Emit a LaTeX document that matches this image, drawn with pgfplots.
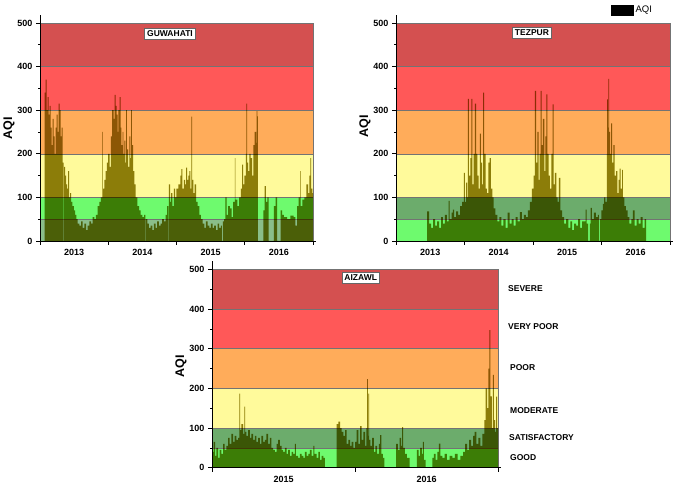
\documentclass[border=0pt]{standalone}
\usepackage{pgfplots}
\pgfplotsset{compat=1.18}
\usepackage{fontspec}
\setmainfont{Liberation Sans}
\definecolor{sev}{RGB}{212,80,80}
\definecolor{vp}{RGB}{255,88,88}
\definecolor{poor}{RGB}{255,172,90}
\definecolor{mod}{RGB}{255,250,155}
\definecolor{limeg}{RGB}{110,250,110}
\definecolor{mgreen}{RGB}{108,172,108}
\definecolor{ggood}{RGB}{138,190,138}
\definecolor{barc}{RGB}{140,128,15}

\newcommand\bands[4]{%
\addplot[fill=#3,draw=black!55,line width=0.4pt] coordinates {(#1,0)(#2,0)(#2,50)(#1,50)} -- cycle;
\addplot[fill=#4,draw=black!55,line width=0.4pt] coordinates {(#1,50)(#2,50)(#2,100)(#1,100)} -- cycle;
\addplot[fill=mod,draw=black!55,line width=0.4pt] coordinates {(#1,100)(#2,100)(#2,200)(#1,200)} -- cycle;
\addplot[fill=poor,draw=black!55,line width=0.4pt] coordinates {(#1,200)(#2,200)(#2,300)(#1,300)} -- cycle;
\addplot[fill=vp,draw=black!55,line width=0.4pt] coordinates {(#1,300)(#2,300)(#2,400)(#1,400)} -- cycle;
\addplot[fill=sev,draw=black!55,line width=0.4pt] coordinates {(#1,400)(#2,400)(#2,500)(#1,500)} -- cycle;
}

\tikzset{ttl/.style={draw=black!60, fill=white, line width=0.4pt, inner xsep=2.5pt, inner ysep=2.5pt, font=\fontsize{8.5}{9}\selectfont\bfseries}}

\pgfplotsset{
  panel/.style={
    scale only axis, anchor=south west, axis on top=true,
    axis x line*=bottom, axis y line*=left,
    axis line style={-, line width=0.9pt, black},
    tick align=outside, major tick length=4pt, minor tick length=2pt,
    tick style={black, line width=0.6pt},
    ymin=0,
    ytick={0,100,200,300,400,500}, minor ytick={50,150,250,350,450},
    yticklabels={0,100,200,300,400,500},
    yticklabel style={font=\fontsize{9}{10}\selectfont\bfseries},
    xticklabels={},
    extra x tick style={major tick length=0pt, xticklabel style={font=\fontsize{9}{10}\selectfont\bfseries, yshift=-5pt}},
    ylabel={AQI},
    ylabel style={font=\fontsize{12.5}{14}\selectfont\bfseries, anchor=center},
  },
}

\begin{document}
\begin{tikzpicture}
\path[use as bounding box] (0pt,0pt) rectangle (685pt,485pt);

% ---------------- GUWAHATI ----------------
\begin{axis}[panel, at={(40pt,244pt)}, width=276.4pt, height=225.9pt,
  xmin=2013, xmax=2017.05, ymax=518,
  xtick={2013,2014,2015,2016,2017},
  extra x ticks={2013.5,2014.5,2015.5,2016.5}, extra x tick labels={2013,2014,2015,2016},
  ylabel style={at={(axis description cs:-0.112,0.5)}}]
\bands{2013}{2017}{ggood}{limeg}
\addplot[const plot, fill=barc, draw=none, blend mode=multiply] coordinates {
(2013.068,340)(2013.083,370)(2013.097,300)(2013.112,330)(2013.126,290)(2013.141,310)(2013.155,260)(2013.170,220)(2013.184,280)(2013.199,240)(2013.214,200)(2013.228,260)(2013.243,290)(2013.257,250)(2013.272,315)(2013.286,300)(2013.301,240)(2013.316,260)(2013.330,180)(2013.345,0)(2013.354,170)(2013.369,150)(2013.383,130)(2013.398,120)(2013.413,160)(2013.427,100)(2013.442,110)(2013.456,90)(2013.476,80)(2013.495,70)(2013.515,60)(2013.534,50)(2013.553,40)(2013.578,35)(2013.602,45)(2013.626,30)(2013.650,40)(2013.675,25)(2013.699,35)(2013.723,45)(2013.748,40)(2013.772,55)(2013.796,50)(2013.820,60)(2013.845,80)(2013.869,90)(2013.893,100)(2013.913,250)(2013.922,120)(2013.942,140)(2013.961,160)(2013.981,180)
(2014.000,200)(2014.019,170)(2014.039,240)(2014.058,300)(2014.078,280)(2014.092,335)(2014.107,310)(2014.121,290)(2014.136,250)(2014.150,300)(2014.165,330)(2014.180,260)(2014.194,220)(2014.209,250)(2014.223,200)(2014.238,230)(2014.252,180)(2014.262,300)(2014.272,210)(2014.291,170)(2014.311,240)(2014.325,190)(2014.335,300)(2014.345,220)(2014.364,160)(2014.383,130)(2014.403,100)(2014.427,80)(2014.451,70)(2014.476,60)(2014.500,55)(2014.524,60)(2014.544,0)(2014.553,50)(2014.573,40)(2014.597,30)(2014.621,35)(2014.646,25)(2014.670,40)(2014.694,30)(2014.718,45)(2014.743,35)(2014.767,40)(2014.791,50)(2014.816,45)(2014.840,60)(2014.864,80)(2014.880,0)(2014.890,130)(2014.905,90)(2014.920,110)(2014.940,80)(2014.960,120)(2014.980,100)
(2015.000,120)(2015.029,130)(2015.058,150)(2015.073,165)(2015.087,120)(2015.107,140)(2015.126,130)(2015.141,168)(2015.155,140)(2015.175,150)(2015.189,160)(2015.204,120)(2015.218,285)(2015.228,140)(2015.248,110)(2015.267,130)(2015.286,90)(2015.311,80)(2015.335,60)(2015.359,50)(2015.383,40)(2015.408,30)(2015.432,45)(2015.456,35)(2015.481,30)(2015.505,40)(2015.529,30)(2015.553,35)(2015.578,25)(2015.602,40)(2015.626,30)(2015.650,35)(2015.665,0)(2015.680,45)(2015.699,50)(2015.718,100)(2015.733,60)(2015.757,80)(2015.782,75)(2015.806,55)(2015.830,90)(2015.854,190)(2015.864,95)(2015.893,80)(2015.917,100)(2015.942,120)(2015.961,175)(2015.976,130)(2015.995,150)
(2016.015,200)(2016.024,315)(2016.034,180)(2016.049,160)(2016.068,200)(2016.087,190)(2016.107,150)(2016.126,220)(2016.146,250)(2016.165,225)(2016.175,298)(2016.184,286)(2016.194,0)(2016.272,70)(2016.291,126)(2016.311,90)(2016.330,100)(2016.350,0)(2016.427,80)(2016.451,100)(2016.476,0)(2016.524,70)(2016.549,60)(2016.573,55)(2016.621,50)(2016.670,58)(2016.718,55)(2016.743,35)(2016.767,80)(2016.791,100)(2016.811,160)(2016.820,80)(2016.845,95)(2016.874,100)(2016.903,130)(2016.927,110)(2016.947,150)(2016.961,190)(2016.971,120)(2016.990,110)(2017.000,110)
} \closedcycle;
\node[ttl] at (axis cs:2014.905,475) {GUWAHATI};
\end{axis}

% ---------------- TEZPUR ----------------
\begin{axis}[panel, at={(396pt,244pt)}, width=277.4pt, height=225.9pt,
  xmin=2013, xmax=2017.05, ymax=518,
  xtick={2013,2014,2015,2016,2017},
  extra x ticks={2013.5,2014.5,2015.5,2016.5}, extra x tick labels={2013,2014,2015,2016},
  ylabel style={at={(axis description cs:-0.112,0.509)}},
  legend style={at={(axis description cs:0.775,1.0226)}, anchor=west, draw=none, fill=none, inner sep=0pt, font=\fontsize{9.5}{10}\selectfont}]
\addlegendimage{legend image code/.code={\fill[black] (0pt,-5pt) rectangle (22pt,5pt);}}
\addlegendentry{AQI}
\bands{2013}{2017}{limeg}{mgreen}
\addplot[const plot, fill=barc, draw=none, blend mode=multiply] coordinates {
(2013.454,68)(2013.483,40)(2013.512,30)(2013.541,50)(2013.570,35)(2013.599,45)(2013.628,30)(2013.657,55)(2013.686,40)(2013.715,60)(2013.744,45)(2013.768,92)(2013.783,50)(2013.812,65)(2013.831,72)(2013.850,55)(2013.879,68)(2013.908,60)(2013.937,80)(2013.966,90)(2013.990,156)
(2014.005,90)(2014.025,134)(2014.040,100)(2014.050,326)(2014.064,150)(2014.084,190)(2014.099,326)(2014.114,130)(2014.134,200)(2014.153,315)(2014.168,200)(2014.188,150)(2014.208,120)(2014.223,246)(2014.238,180)(2014.257,130)(2014.272,340)(2014.287,200)(2014.307,120)(2014.327,110)(2014.347,180)(2014.366,190)(2014.386,120)(2014.406,100)(2014.426,75)(2014.450,60)(2014.480,45)(2014.510,55)(2014.540,35)(2014.569,50)(2014.599,30)(2014.629,65)(2014.658,40)(2014.688,50)(2014.718,35)(2014.748,55)(2014.777,45)(2014.807,66)(2014.837,50)(2014.866,60)(2014.896,55)(2014.926,70)(2014.955,90)(2014.985,120)
(2015.010,150)(2015.029,344)(2015.044,180)(2015.063,250)(2015.083,140)(2015.097,200)(2015.112,344)(2015.126,220)(2015.146,280)(2015.165,160)(2015.180,240)(2015.194,336)(2015.209,200)(2015.228,150)(2015.248,120)(2015.267,200)(2015.286,313)(2015.301,130)(2015.320,156)(2015.340,100)(2015.359,90)(2015.379,145)(2015.398,70)(2015.427,55)(2015.456,40)(2015.485,50)(2015.515,30)(2015.544,45)(2015.573,25)(2015.602,40)(2015.631,35)(2015.660,50)(2015.689,30)(2015.718,45)(2015.767,72)(2015.782,40)(2015.806,0)(2015.830,40)(2015.840,76)(2015.859,50)(2015.888,65)(2015.917,55)(2015.947,60)(2015.961,0)(2015.976,50)
(2016.000,70)(2016.019,85)(2016.039,100)(2016.058,90)(2016.077,200)(2016.082,325)(2016.092,260)(2016.101,372)(2016.111,250)(2016.126,200)(2016.140,270)(2016.155,180)(2016.174,220)(2016.193,150)(2016.213,160)(2016.232,110)(2016.251,140)(2016.266,166)(2016.280,120)(2016.300,163)(2016.314,100)(2016.333,80)(2016.357,70)(2016.382,55)(2016.406,40)(2016.435,50)(2016.459,70)(2016.483,35)(2016.512,50)(2016.541,40)(2016.570,55)(2016.599,30)(2016.628,50)(2016.652,50)
} \closedcycle;
\node[ttl] at (axis cs:2014.985,477) {TEZPUR};
\end{axis}

% ---------------- AIZAWL ----------------
\begin{axis}[panel, at={(212pt,17.3pt)}, width=288.9pt, height=206.3pt,
  xmin=2015, xmax=2017.02, ymax=520,
  xtick={2015,2016,2017},
  extra x ticks={2015.5,2016.5}, extra x tick labels={2015,2016},
  ylabel style={at={(axis description cs:-0.107,0.493)}}]
\bands{2015}{2017}{limeg}{mgreen}
\addplot[const plot, fill=barc, draw=none, blend mode=multiply] coordinates {
(2015.000,40)(2015.012,65)(2015.021,30)(2015.030,50)(2015.042,25)(2015.054,45)(2015.065,35)(2015.077,60)(2015.089,45)(2015.100,55)(2015.112,75)(2015.124,60)(2015.136,85)(2015.147,65)(2015.159,80)(2015.171,70)(2015.182,75)(2015.192,187)(2015.196,95)(2015.206,110)(2015.217,85)(2015.227,154)(2015.231,90)(2015.241,80)(2015.252,95)(2015.264,75)(2015.276,85)(2015.287,70)(2015.299,80)(2015.311,65)(2015.322,75)(2015.334,60)(2015.346,80)(2015.357,65)(2015.369,70)(2015.381,85)(2015.393,60)(2015.404,75)(2015.416,50)(2015.428,45)(2015.439,40)(2015.451,60)(2015.463,70)(2015.474,55)(2015.486,45)(2015.498,40)(2015.509,50)(2015.521,35)(2015.533,45)(2015.544,30)(2015.556,40)(2015.568,35)(2015.579,60)(2015.586,30)(2015.603,25)(2015.614,35)(2015.626,30)(2015.638,25)(2015.650,40)(2015.661,30)(2015.673,35)(2015.685,45)(2015.696,30)(2015.708,55)(2015.715,35)(2015.731,25)(2015.743,40)(2015.755,20)(2015.766,30)(2015.778,25)(2015.790,0)(2015.871,110)(2015.883,116)(2015.895,100)(2015.907,90)(2015.918,80)(2015.930,95)(2015.942,60)(2015.953,70)(2015.965,55)(2015.977,65)(2015.988,50)
(2016.000,65)(2016.012,95)(2016.023,60)(2016.035,105)(2016.047,70)(2016.058,90)(2016.070,55)(2016.079,100)(2016.084,223)(2016.089,80)(2016.093,187)(2016.098,70)(2016.107,55)(2016.119,75)(2016.131,40)(2016.143,55)(2016.154,35)(2016.166,60)(2016.175,82)(2016.185,35)(2016.194,25)(2016.206,0)(2016.287,60)(2016.299,45)(2016.311,75)(2016.322,55)(2016.329,102)(2016.336,50)(2016.348,35)(2016.362,25)(2016.381,0)(2016.432,45)(2016.444,30)(2016.456,50)(2016.467,35)(2016.474,65)(2016.481,20)(2016.493,0)(2016.540,25)(2016.551,35)(2016.563,20)(2016.575,40)(2016.586,61)(2016.596,30)(2016.610,25)(2016.626,35)(2016.643,20)(2016.661,30)(2016.680,25)(2016.699,35)(2016.717,20)(2016.736,30)(2016.755,40)(2016.769,60)(2016.783,45)(2016.797,70)(2016.811,55)(2016.825,80)(2016.836,90)(2016.848,60)(2016.862,75)(2016.876,55)(2016.890,85)(2016.904,120)(2016.914,200)(2016.923,150)(2016.932,250)(2016.939,347)(2016.946,180)(2016.956,100)(2016.963,234)(2016.970,120)(2016.979,90)(2016.986,179)(2016.993,100)(2017.000,100)
} \closedcycle;
\node[ttl] at (axis cs:2016.04,478) {AIZAWL};
\end{axis}

% category names
\begin{scope}[every node/.style={anchor=west, font=\fontsize{8.5}{10}\selectfont\bfseries, inner sep=0pt}]
\node at (508pt,196pt) {SEVERE};
\node at (508pt,158pt) {VERY POOR};
\node at (510pt,117pt) {POOR};
\node at (510pt,74pt) {MODERATE};
\node at (509pt,47pt) {SATISFACTORY};
\node at (510pt,27pt) {GOOD};
\end{scope}
\end{tikzpicture}
\end{document}
